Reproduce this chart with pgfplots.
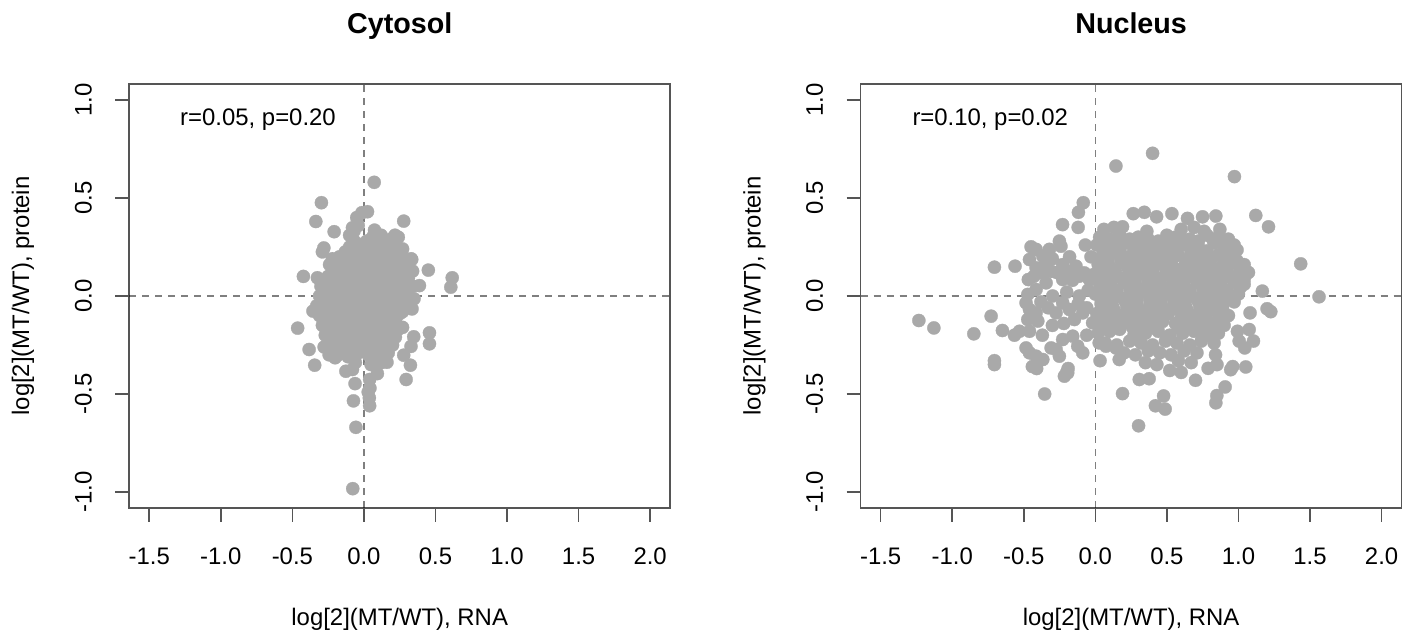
\documentclass[border=0pt]{standalone}
\usepackage{fontspec}
\setmainfont{Liberation Sans}
\usepackage{pgfplots}
\pgfplotsset{compat=1.18}
\definecolor{pt}{HTML}{A9A9A9}
\definecolor{ax}{HTML}{555555}
\tikzset{refl/.style={black, opacity=0.5, line width=0.8bp, dash pattern=on 3.5bp off 3bp}}
\pgfplotsset{rstyle/.style={
  scale only axis, width=270.5bp, height=211.7bp,
  anchor=south west,
  xmin=-1.64, xmax=2.14, ymin=-1.08, ymax=1.08,
  axis line style={ax, line width=0.8bp},
  xtick={-1.5,-1,-0.5,0,0.5,1,1.5,2},
  xticklabels={-1.5,-1.0,-0.5,0.0,0.5,1.0,1.5,2.0},
  ytick={-1,-0.5,0,0.5,1},
  yticklabels={-1.0,-0.5,0.0,0.5,1.0},
  tick align=outside, major tick length=7bp,
  xtick pos=bottom, ytick pos=left,
  tick style={ax, line width=0.8bp},
  tick label style={font=\fontsize{12}{14}\selectfont, inner sep=0pt},
  xticklabel style={anchor=north, yshift=-13bp},
  yticklabel style={xshift=-11.5bp, anchor=south, rotate=90},
  every axis x label/.style={at={(axis description cs:0.5,0)}, anchor=base, yshift=-58.7bp},
  every axis y label/.style={at={(axis description cs:0,0.5)}, xshift=-50bp, rotate=90, anchor=base},
  label style={font=\fontsize{12}{14}\selectfont},
  xlabel={log[2](MT/WT), RNA},
  ylabel={log[2](MT/WT), protein},
  every axis title/.style={at={(axis description cs:0.5,1)}, anchor=base, yshift=25.5bp, font=\bfseries\fontsize{14.4}{17}\selectfont},
  pts/.style={only marks, color=pt, mark=*, mark size=3.3bp, mark options={draw=pt, fill=pt, line width=0.15bp}},
}}
\begin{document}
\begin{tikzpicture}
\begin{axis}[rstyle, at={(64.6bp,63.15bp)}, title={Cytosol}]
\addplot[pts] coordinates {
(0.072,0.58)(-0.297,0.476)(-0.336,0.38)(0.025,0.43)(-0.014,0.425)(0.278,0.382)(-0.208,0.328)(0.074,0.336)(-0.08,0.348)(-0.10,0.31)(-0.28,0.245)(-0.29,0.225)(0.217,0.31)(0.334,0.186)(0.45,0.132)(0.34,0.127)(0.617,0.093)(0.607,0.045)(0.388,0.053)(-0.423,0.10)(-0.325,0.093)(0.336,-0.066)(-0.356,-0.077)(-0.463,-0.164)(0.458,-0.188)(0.458,-0.244)(0.348,-0.208)(0.329,-0.257)(-0.383,-0.273)(0.278,-0.302)(0.325,-0.353)(0.295,-0.426)(-0.344,-0.353)(-0.278,-0.26)(-0.243,-0.30)(-0.201,-0.315)(-0.126,-0.384)(-0.08,-0.375)(-0.062,-0.447)(0.094,-0.396)(0.04,-0.426)(0.042,-0.47)(0.038,-0.52)(0.04,-0.56)(-0.073,-0.535)(0.161,-0.338)(-0.056,-0.67)(-0.078,-0.983)(0.35,-0.014)(0.33,0.19)(-0.05,0.40)(0.03,-0.49)
(-0.08,0.29)(0.06,0.30)(0.12,0.31)(0.19,0.29)(0.24,0.30)
(-0.10,0.25)(-0.04,0.26)(0.05,0.25)(0.11,0.24)(0.17,0.26)(0.23,0.25)(0.27,0.24)
(-0.17,0.20)(-0.10,0.21)(-0.03,0.19)(0.04,0.20)(0.11,0.21)(0.18,0.19)(0.25,0.20)
(-0.20,0.15)(-0.13,0.14)(-0.06,0.16)(0.01,0.15)(0.08,0.14)(0.15,0.16)(0.22,0.15)(0.28,0.14)
(-0.25,0.10)(-0.17,0.11)(-0.10,0.09)(-0.03,0.10)(0.04,0.11)(0.11,0.09)(0.18,0.10)(0.25,0.11)(0.31,0.09)
(-0.30,0.05)(-0.22,0.04)(-0.14,0.06)(-0.07,0.05)(0.00,0.04)(0.07,0.06)(0.14,0.05)(0.21,0.04)(0.28,0.06)(0.34,0.05)
(-0.31,0.00)(-0.24,0.01)(-0.17,-0.01)(-0.10,0.00)(-0.03,0.01)(0.04,-0.01)(0.11,0.00)(0.18,0.01)(0.25,-0.01)(0.31,0.00)
(-0.33,-0.05)(-0.26,-0.04)(-0.19,-0.06)(-0.12,-0.05)(-0.05,-0.04)(0.02,-0.06)(0.09,-0.05)(0.16,-0.04)(0.23,-0.06)(0.29,-0.05)
(-0.31,-0.10)(-0.24,-0.11)(-0.17,-0.09)(-0.10,-0.10)(-0.03,-0.11)(0.04,-0.09)(0.11,-0.10)(0.18,-0.11)(0.25,-0.09)
(-0.29,-0.15)(-0.22,-0.14)(-0.15,-0.16)(-0.08,-0.15)(-0.01,-0.14)(0.06,-0.16)(0.13,-0.15)(0.20,-0.14)(0.27,-0.16)
(-0.27,-0.20)(-0.20,-0.21)(-0.13,-0.19)(-0.06,-0.20)(0.01,-0.21)(0.08,-0.19)(0.15,-0.20)(0.22,-0.21)
(-0.22,-0.25)(-0.15,-0.24)(-0.08,-0.26)(-0.01,-0.25)(0.06,-0.24)(0.13,-0.26)(0.20,-0.25)
(-0.18,-0.30)(-0.11,-0.31)(-0.04,-0.29)(0.03,-0.30)(0.10,-0.31)(0.17,-0.29)
(-0.06,-0.34)(0.05,-0.35)(0.12,-0.34)
(-0.06,0.275)(0.02,0.28)(0.09,0.27)(0.15,0.28)(0.21,0.275)
(-0.13,0.225)(-0.07,0.23)(0.00,0.22)(0.08,0.225)(0.14,0.23)(0.20,0.22)(0.26,0.225)
(-0.16,0.175)(-0.09,0.18)(-0.02,0.17)(0.05,0.175)(0.12,0.18)(0.19,0.17)(0.25,0.175)
(-0.22,0.125)(-0.14,0.13)(-0.07,0.12)(0.00,0.125)(0.07,0.13)(0.14,0.12)(0.21,0.125)(0.27,0.12)
(-0.27,0.075)(-0.20,0.08)(-0.13,0.07)(-0.06,0.075)(0.01,0.08)(0.08,0.07)(0.15,0.075)(0.22,0.08)(0.29,0.07)
(-0.28,0.025)(-0.20,0.03)(-0.13,0.02)(-0.06,0.025)(0.01,0.03)(0.08,0.02)(0.15,0.025)(0.22,0.03)(0.29,0.02)
(-0.29,-0.025)(-0.22,-0.02)(-0.15,-0.03)(-0.08,-0.025)(-0.01,-0.02)(0.06,-0.03)(0.13,-0.025)(0.20,-0.02)(0.27,-0.03)
(-0.29,-0.075)(-0.22,-0.07)(-0.15,-0.08)(-0.08,-0.075)(-0.01,-0.07)(0.06,-0.08)(0.13,-0.075)(0.20,-0.07)(0.27,-0.08)
(-0.27,-0.125)(-0.20,-0.12)(-0.13,-0.13)(-0.06,-0.125)(0.01,-0.12)(0.08,-0.13)(0.15,-0.125)(0.22,-0.12)
(-0.25,-0.175)(-0.18,-0.17)(-0.11,-0.18)(-0.04,-0.175)(0.03,-0.17)(0.10,-0.18)(0.17,-0.175)(0.24,-0.17)
(-0.24,-0.225)(-0.17,-0.22)(-0.10,-0.23)(-0.03,-0.225)(0.04,-0.22)(0.11,-0.23)(0.18,-0.225)
(-0.15,-0.275)(-0.08,-0.27)(-0.01,-0.28)(0.06,-0.275)(0.13,-0.27)
(-0.07,0.33)(-0.04,0.36)(-0.22,0.19)(-0.24,0.16)
};
\draw[refl] (axis cs:-1.64,0) -- (axis cs:2.14,0);
\draw[refl] (axis cs:0,-1.08) -- (axis cs:0,1.08);
\node[font=\fontsize{12}{14}\selectfont, anchor=base, inner sep=0pt] at (axis cs:-0.74,0.872) {r=0.05, p=0.20};
\end{axis}
\begin{axis}[rstyle, at={(430.3bp,63.15bp)}, title={Nucleus}]
\addplot[pts] coordinates {
(0.40,0.728)(0.144,0.663)(0.972,0.609)(1.121,0.411)(1.21,0.353)(1.435,0.164)(1.563,-0.004)(1.167,0.025)(1.2,-0.065)(1.226,-0.08)(1.081,-0.086)(1.075,-0.171)(1.105,-0.23)(0.993,-0.18)(1.005,-0.23)(1.044,-0.265)(1.051,-0.362)(0.946,-0.376)(0.96,-0.36)(0.907,-0.464)(0.849,-0.508)(0.842,-0.545)(0.7,-0.43)(0.788,-0.369)(0.302,-0.662)(0.19,-0.498)(0.42,-0.56)(0.488,-0.577)(0.477,-0.51)(0.307,-0.426)(0.376,-0.422)(0.428,0.404)(0.265,0.42)(0.342,0.427)(0.535,0.42)(0.644,0.396)(0.749,0.404)(0.842,0.408)(0.19,0.353)
(-0.084,0.476)(-0.118,0.427)(-0.229,0.364)(-0.12,0.35)(-0.705,0.147)(-0.561,0.152)(-0.468,0.084)(-1.233,-0.125)(-1.128,-0.163)(-0.849,-0.193)(-0.728,-0.103)(-0.649,-0.176)(-0.705,-0.33)(-0.705,-0.35)(-0.354,-0.5)(-0.2,-0.39)(-0.19,-0.37)(-0.41,-0.37)(-0.44,-0.36)(-0.565,-0.2)(-0.53,-0.18)(-0.46,-0.18)(0.033,-0.33)
(-0.449,0.251)(-0.414,0.238)(-0.321,0.238)(-0.251,0.280)(-0.24,0.254)(-0.367,0.203)(-0.46,0.186)(-0.414,0.144)(-0.367,0.118)(-0.309,0.126)(-0.228,0.16)(-0.193,0.126)(-0.135,0.152)(-0.112,0.101)(-0.077,0.118)(-0.042,0.084)(-0.228,0.084)(-0.344,0.067)(-0.414,0.033)(-0.472,0.008)(-0.484,-0.035)(-0.46,-0.069)(-0.414,-0.086)(-0.472,-0.12)(-0.402,-0.128)(-0.274,-0.086)(-0.228,-0.035)(-0.181,-0.069)(-0.146,-0.12)(-0.088,-0.086)(-0.019,-0.137)(0.027,-0.103)(-0.298,0.0)(-0.112,0.0)
(-0.484,-0.265)(-0.46,-0.29)(-0.414,-0.307)(-0.367,-0.324)(-0.309,-0.265)(-0.274,-0.273)(-0.251,-0.307)(-0.228,-0.222)(-0.158,-0.205)(-0.123,-0.256)(-0.088,-0.29)(-0.193,-0.392)(-0.216,-0.409)(0.027,-0.239)(0.074,-0.256)(0.144,-0.265)(0.167,-0.324)
(-0.35,0.16)(-0.27,0.12)(-0.16,0.08)(-0.05,0.03)(-0.38,-0.03)(-0.33,-0.06)(-0.20,0.02)(-0.12,-0.04)(-0.06,-0.06)(-0.30,0.19)(-0.18,0.20)(-0.43,0.10)(-0.03,0.20)(-0.07,0.26)(-0.30,-0.15)(-0.22,-0.14)(-0.06,-0.20)(-0.37,-0.20)
(0.06,0.34)(0.13,0.35)(0.36,0.33)(0.60,0.34)(0.69,0.35)(0.76,0.33)(0.87,0.34)
(0.03,0.30)(0.10,0.29)(0.17,0.31)(0.30,0.30)(0.37,0.29)(0.50,0.31)(0.56,0.30)(0.66,0.29)(0.78,0.31)(0.86,0.30)(0.93,0.29)
(0.01,0.26)(0.12,0.25)(0.22,0.27)(0.31,0.26)(0.44,0.25)(0.52,0.27)(0.63,0.26)(0.72,0.25)(0.83,0.27)(0.97,0.26)
(0.05,0.21)(0.14,0.22)(0.23,0.20)(0.34,0.21)(0.42,0.22)(0.50,0.20)(0.58,0.21)(0.67,0.22)(0.75,0.20)(0.86,0.21)(0.94,0.22)
(0.02,0.16)(0.10,0.15)(0.19,0.17)(0.27,0.16)(0.36,0.15)(0.45,0.17)(0.53,0.16)(0.62,0.15)(0.70,0.17)(0.79,0.16)(0.88,0.15)(0.96,0.17)(1.04,0.16)
(-0.01,0.11)(0.07,0.12)(0.15,0.10)(0.24,0.11)(0.33,0.12)(0.41,0.10)(0.50,0.11)(0.58,0.12)(0.67,0.10)(0.75,0.11)(0.84,0.12)(0.92,0.10)(1.00,0.11)(1.07,0.12)
(0.03,0.06)(0.11,0.05)(0.20,0.07)(0.28,0.06)(0.37,0.05)(0.45,0.07)(0.54,0.06)(0.62,0.05)(0.71,0.07)(0.80,0.06)(0.88,0.05)(0.97,0.07)(1.04,0.06)
(0.00,0.01)(0.08,0.02)(0.16,0.00)(0.25,0.01)(0.33,0.02)(0.42,0.00)(0.50,0.01)(0.59,0.02)(0.67,0.00)(0.76,0.01)(0.84,0.02)(0.93,0.00)(1.00,0.01)
(0.04,-0.04)(0.12,-0.05)(0.21,-0.03)(0.29,-0.04)(0.38,-0.05)(0.46,-0.03)(0.55,-0.04)(0.63,-0.05)(0.72,-0.03)(0.80,-0.04)(0.89,-0.05)(0.97,-0.03)
(0.01,-0.09)(0.09,-0.08)(0.17,-0.10)(0.26,-0.09)(0.34,-0.08)(0.43,-0.10)(0.51,-0.09)(0.60,-0.08)(0.68,-0.10)(0.77,-0.09)(0.85,-0.08)(0.93,-0.10)
(0.05,-0.14)(0.13,-0.15)(0.22,-0.13)(0.30,-0.14)(0.39,-0.15)(0.47,-0.13)(0.56,-0.14)(0.64,-0.15)(0.73,-0.13)(0.81,-0.14)(0.90,-0.15)
(0.02,-0.19)(0.10,-0.18)(0.27,-0.20)(0.35,-0.19)(0.44,-0.18)(0.52,-0.20)(0.61,-0.19)(0.69,-0.18)(0.78,-0.20)(0.86,-0.19)
(0.07,-0.24)(0.15,-0.25)(0.24,-0.23)(0.32,-0.24)(0.40,-0.25)(0.49,-0.23)(0.57,-0.24)(0.66,-0.25)(0.74,-0.23)(0.83,-0.24)
(0.20,-0.29)(0.28,-0.30)(0.37,-0.28)(0.45,-0.29)(0.53,-0.30)(0.62,-0.28)(0.71,-0.29)(0.84,-0.30)
(0.35,-0.34)(0.43,-0.35)(0.58,-0.33)(0.67,-0.34)(0.85,-0.35)
(0.52,-0.38)(0.60,-0.39)
(0.07,0.285)(0.14,0.28)(0.24,0.29)(0.34,0.285)(0.44,0.28)(0.53,0.29)(0.61,0.285)(0.72,0.28)(0.82,0.29)(0.90,0.285)
(0.07,0.235)(0.17,0.23)(0.27,0.24)(0.38,0.235)(0.48,0.23)(0.56,0.24)(0.68,0.235)(0.78,0.23)(0.90,0.24)(0.99,0.235)
(0.09,0.185)(0.18,0.18)(0.30,0.19)(0.38,0.185)(0.46,0.18)(0.54,0.19)(0.63,0.185)(0.71,0.18)(0.81,0.19)(0.90,0.185)(0.99,0.18)
(0.05,0.135)(0.14,0.13)(0.23,0.14)(0.31,0.135)(0.40,0.13)(0.49,0.14)(0.57,0.135)(0.66,0.13)(0.74,0.14)(0.83,0.135)(0.92,0.13)(1.01,0.14)
(0.03,0.085)(0.11,0.08)(0.19,0.09)(0.28,0.085)(0.37,0.08)(0.45,0.09)(0.54,0.085)(0.62,0.08)(0.71,0.09)(0.79,0.085)(0.88,0.08)(0.96,0.09)(1.04,0.085)
(0.07,0.035)(0.15,0.03)(0.24,0.04)(0.32,0.035)(0.41,0.03)(0.49,0.04)(0.58,0.035)(0.66,0.03)(0.75,0.04)(0.83,0.035)(0.92,0.03)(1.01,0.04)
(0.04,-0.015)(0.12,-0.02)(0.21,-0.01)(0.29,-0.015)(0.38,-0.02)(0.46,-0.01)(0.55,-0.015)(0.63,-0.02)(0.71,-0.01)(0.80,-0.015)(0.88,-0.02)(0.96,-0.01)
(0.05,-0.065)(0.13,-0.07)(0.22,-0.06)(0.30,-0.065)(0.39,-0.07)(0.47,-0.06)(0.56,-0.065)(0.64,-0.07)(0.73,-0.06)(0.81,-0.065)(0.89,-0.07)
(0.03,-0.115)(0.11,-0.12)(0.20,-0.11)(0.28,-0.115)(0.37,-0.12)(0.45,-0.11)(0.60,-0.115)(0.69,-0.12)(0.77,-0.11)(0.86,-0.115)
(0.07,-0.165)(0.17,-0.17)(0.26,-0.16)(0.34,-0.165)(0.43,-0.17)(0.58,-0.16)(0.66,-0.165)(0.75,-0.17)(0.83,-0.16)
};
\draw[refl] (axis cs:-1.64,0) -- (axis cs:2.14,0);
\draw[refl] (axis cs:0,-1.08) -- (axis cs:0,1.08);
\node[font=\fontsize{12}{14}\selectfont, anchor=base, inner sep=0pt] at (axis cs:-0.734,0.872) {r=0.10, p=0.02};
\end{axis}
\pgfresetboundingbox
\useasboundingbox (0,0) rectangle (707bp,317bp);
\end{tikzpicture}
\end{document}
